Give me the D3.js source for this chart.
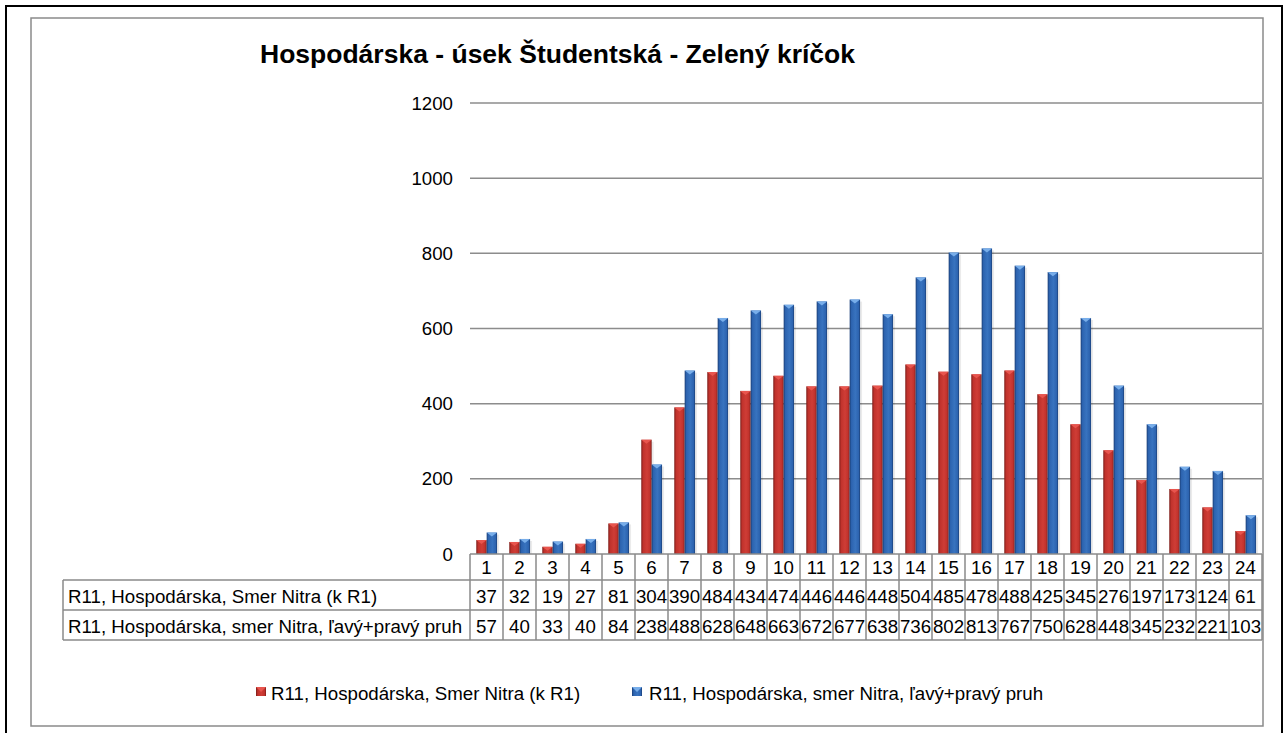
<!DOCTYPE html>
<html lang="sk">
<head>
<meta charset="UTF-8">
<script src="https://cdnjs.cloudflare.com/ajax/libs/d3/7.8.5/d3.min.js"></script>
<title>Hospodárska - úsek Študentská - Zelený kríčok</title>
<style>
  body { margin: 0; background: #fff; }
  text { font-family: "Liberation Sans", Arial, sans-serif; fill: #000; }
</style>
</head>
<body>
<div id="chart"></div>
<script>
// ---- data ----
const hours = d3.range(1, 25).map(String)
const seriesNames = [
    "R11, Hospodárska, Smer Nitra (k R1)",
    "R11, Hospodárska, smer Nitra, ľavý+pravý pruh"
]
const smerNitra = [37, 32, 19, 27, 81, 304, 390, 484, 434, 474, 446, 446, 448, 504, 485, 478, 488, 425, 345, 276, 197, 173, 124, 61]
const lavyPravy = [57, 40, 33, 40, 84, 238, 488, 628, 648, 663, 672, 677, 638, 736, 802, 813, 767, 750, 628, 448, 345, 232, 221, 103]
const yTicks = [0, 200, 400, 600, 800, 1000, 1200]
const title = "Hospodárska - úsek Študentská - Zelený kríčok"

const seriesValues = [smerNitra, lavyPravy]
const colors = [
    { dark: "#7a1c18", mid: "#c0322c", light: "#cf3d36", cap: "#e8554e" },
    { dark: "#1a3f78", mid: "#2d64b0", light: "#3873bf", cap: "#78aeea" }
]

// ---- layout ----
const W = 1285, H = 733
const plot = { left: 470, right: 1262, top: 103, bottom: 554 }
const rowH = [26, 30, 30]  // header row, series rows
const labelLeft = 63
const fs = "18.7px"

const svg = d3.select("#chart").append("svg")
    .attr("width", W)
    .attr("height", H)

// frames
svg.append("rect")
    .attr("x", 6).attr("y", 6).attr("width", 1276).attr("height", 732)
    .attr("fill", "#fff").attr("stroke", "#000").attr("stroke-width", 2)
svg.append("rect")
    .attr("x", 31).attr("y", 18).attr("width", 1232).attr("height", 708)
    .attr("fill", "#fff").attr("stroke", "#8a8a8a").attr("stroke-width", 1.5)

// title
svg.append("text")
    .attr("x", 260).attr("y", 63)
    .style("font-size", "26.5px").style("font-weight", "bold")
    .text(title)

// scales
const x = d3.scaleBand().domain(hours).range([plot.left, plot.right]).padding(0)
const bw = x.bandwidth()
const xs = d3.scaleBand().domain([0, 1]).range([bw * 0.19, bw * 0.82]).padding(0)
const y = d3.scaleLinear().domain([0, 1200]).range([plot.bottom, plot.top])

// gridlines
svg.append("g").selectAll("line")
    .data(yTicks.filter(d => d > 0))
    .join("line")
    .attr("x1", plot.left).attr("x2", plot.right)
    .attr("y1", d => y(d)).attr("y2", d => y(d))
    .attr("stroke", "#8c8c8c").attr("stroke-width", 1.5)

// y labels
svg.append("g").selectAll("text")
    .data(yTicks)
    .join("text")
    .attr("x", 453)
    .attr("y", d => y(d) + 6.5)
    .attr("text-anchor", "end")
    .style("font-size", fs)
    .text(d => d)

// gradients
const defs = svg.append("defs")
colors.forEach((c, i) => {
    const g = defs.append("linearGradient").attr("id", "grad" + i)
        .attr("x1", "0%").attr("x2", "100%").attr("y1", "0%").attr("y2", "0%")
    g.append("stop").attr("offset", "0%").attr("stop-color", c.dark)
    g.append("stop").attr("offset", "18%").attr("stop-color", c.mid)
    g.append("stop").attr("offset", "55%").attr("stop-color", c.light)
    g.append("stop").attr("offset", "85%").attr("stop-color", c.mid)
    g.append("stop").attr("offset", "100%").attr("stop-color", c.dark)
})

// bars
seriesValues.forEach((vals, s) => {
    const g = svg.append("g")
    const bars = hours.map((h, i) => ({ h: h, v: vals[i] }))
    // soft shadow
    g.selectAll("rect.shadow")
        .data(bars)
        .join("rect")
        .attr("class", "shadow")
        .attr("x", d => x(d.h) + xs(s) + 2)
        .attr("y", d => y(d.v) + 2)
        .attr("width", xs.bandwidth())
        .attr("height", d => y(0) - y(d.v) - 2)
        .attr("fill", "#000").attr("opacity", 0.08)
    g.selectAll("rect.bar")
        .data(bars)
        .join("rect")
        .attr("class", "bar")
        .attr("x", d => x(d.h) + xs(s))
        .attr("y", d => y(d.v))
        .attr("width", xs.bandwidth())
        .attr("height", d => y(0) - y(d.v))
        .attr("fill", `url(#grad${s})`)
    g.selectAll("path.cap")
        .data(bars)
        .join("path")
        .attr("class", "cap")
        .attr("d", d => {
            const x0 = x(d.h) + xs(s), w = xs.bandwidth(), y0 = y(d.v)
            return `M${x0},${y0}L${x0 + w},${y0}L${x0 + w / 2},${y0 + Math.min(4, (y(0) - y0))}Z`
        })
        .attr("fill", colors[s].cap)
})

// data table
const tbl = svg.append("g")
const lineCol = "#8a8a8a"
const yHead = plot.bottom
const yRow1 = yHead + rowH[0]
const yRow2 = yRow1 + rowH[1]
const yEnd = yRow2 + rowH[2]

// horizontal lines
tbl.append("line").attr("x1", plot.left).attr("x2", plot.right).attr("y1", yHead).attr("y2", yHead)
tbl.append("line").attr("x1", labelLeft).attr("x2", plot.right).attr("y1", yRow1).attr("y2", yRow1)
tbl.append("line").attr("x1", labelLeft).attr("x2", plot.right).attr("y1", yRow2).attr("y2", yRow2)
tbl.append("line").attr("x1", labelLeft).attr("x2", plot.right).attr("y1", yEnd).attr("y2", yEnd)
// vertical lines
tbl.append("line").attr("x1", labelLeft).attr("x2", labelLeft).attr("y1", yRow1).attr("y2", yEnd)
tbl.selectAll("line.v")
    .data(hours.concat(["end"]))
    .join("line")
    .attr("class", "v")
    .attr("x1", d => d === "end" ? plot.right : x(d))
    .attr("x2", d => d === "end" ? plot.right : x(d))
    .attr("y1", yHead).attr("y2", yEnd)
tbl.selectAll("line").attr("stroke", lineCol).attr("stroke-width", 1.5)

// header labels
tbl.selectAll("text.h")
    .data(hours)
    .join("text")
    .attr("class", "h")
    .attr("x", d => x(d) + bw / 2)
    .attr("y", yHead + 19.5)
    .attr("text-anchor", "middle")
    .style("font-size", fs)
    .text(d => d)

// series rows
const rowsY = [yRow1, yRow2]
seriesValues.forEach((vals, s) => {
    tbl.append("text")
        .attr("x", labelLeft + 5)
        .attr("y", rowsY[s] + 22.5)
        .style("font-size", fs)
        .text(seriesNames[s])
    tbl.selectAll("text.v" + s)
        .data(vals)
        .join("text")
        .attr("class", "v" + s)
        .attr("x", (d, i) => x(hours[i]) + bw / 2)
        .attr("y", rowsY[s] + 22.5)
        .attr("text-anchor", "middle")
        .style("font-size", fs)
        .text(d => d)
})

// legend
const legendX = [256, 632]
seriesNames.forEach((name, s) => {
    const lg = svg.append("g").attr("transform", `translate(${legendX[s]},700)`)
    lg.append("rect")
        .attr("x", 0).attr("y", -13).attr("width", 10).attr("height", 9)
        .attr("fill", `url(#grad${s})`)
    lg.append("path")
        .attr("d", "M0,-13L10,-13L5,-8Z")
        .attr("fill", colors[s].cap)
    lg.append("text")
        .attr("x", s === 0 ? 15 : 17).attr("y", 0)
        .style("font-size", fs)
        .text(name)
})
</script>
</body>
</html>
